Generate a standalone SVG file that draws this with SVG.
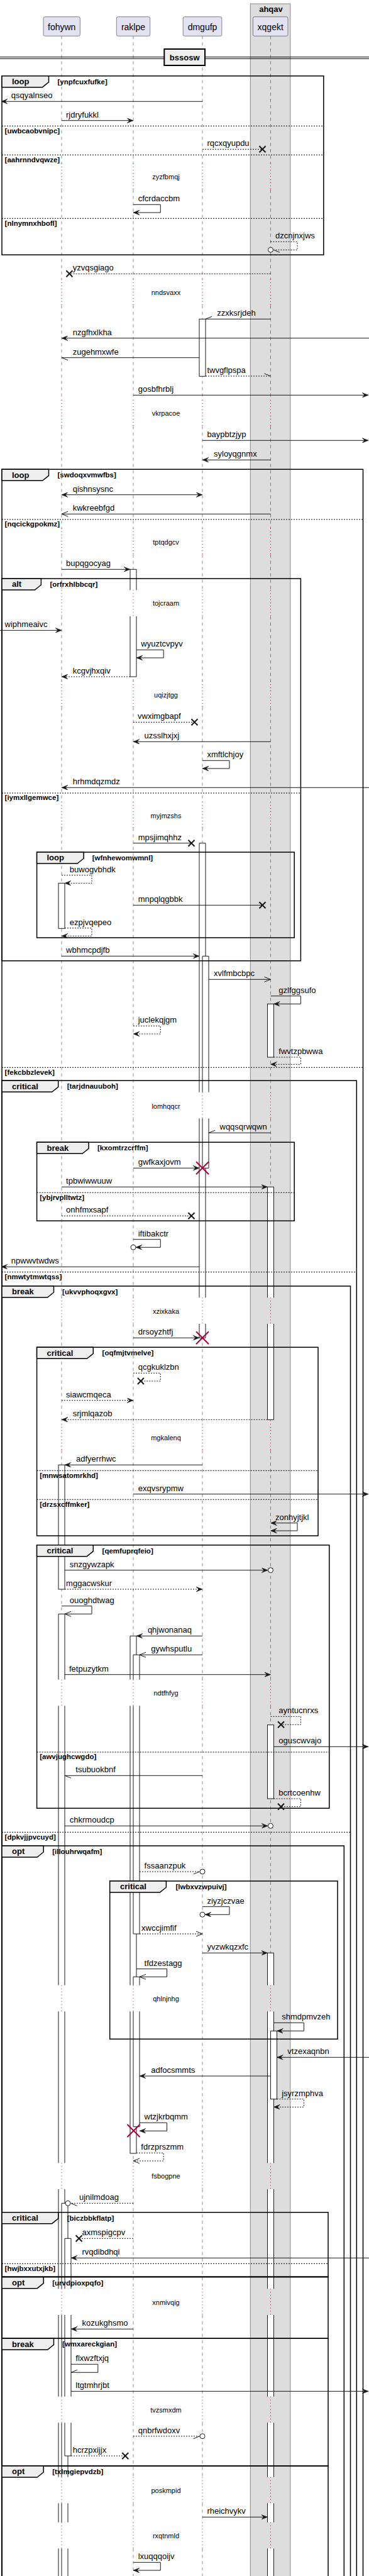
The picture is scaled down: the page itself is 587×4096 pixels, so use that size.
<svg xmlns="http://www.w3.org/2000/svg" width="587" height="4096" viewBox="0 0 587 4096">
<style>
.t{font-family:"Liberation Sans",Arial,sans-serif;font-size:13px;fill:#000}
.g{font-family:"Liberation Sans",Arial,sans-serif;font-size:11.5px;font-weight:bold;fill:#000}
.h{font-family:"Liberation Sans",Arial,sans-serif;font-size:13px;font-weight:bold;fill:#000}
.dt{font-family:"Liberation Sans",Arial,sans-serif;font-size:11px;fill:#000;text-anchor:middle}
.p{font-family:"Liberation Sans",Arial,sans-serif;font-size:14px;fill:#000;text-anchor:middle}
.pb{fill:#E2E2F0;stroke:#181818;stroke-width:0.5}
.ll{fill:none;stroke:#181818;stroke-width:0.5;stroke-dasharray:5,5}
.dl{fill:none;stroke:#A80036;stroke-width:1;stroke-dasharray:1,4}
.fr{fill:none;stroke:#000;stroke-width:1.5}
.tab{fill:#EEEEEE;stroke:#000;stroke-width:1.5}
.el{fill:none;stroke:#000;stroke-width:1;stroke-dasharray:2,2}
.m{fill:none;stroke:#181818;stroke-width:1}
.md{fill:none;stroke:#181818;stroke-width:1;stroke-dasharray:2,2}
.x{stroke:#181818;stroke-width:2;fill:none}
.rx{stroke:#A80036;stroke-width:2;fill:none}
.c{fill:#fff;stroke:#181818;stroke-width:1}
.ab{fill:#fff;stroke:#181818;stroke-width:1}
.aw{fill:#fff;stroke:none}
.as{fill:none;stroke:#181818;stroke-width:1}
</style>
<defs>
<marker id="af" viewBox="0 0 10 8" refX="10" refY="4" markerWidth="10" markerHeight="8" markerUnits="userSpaceOnUse" orient="auto-start-reverse"><path d="M0,0L10,4L0,8L4,4Z" fill="#181818" stroke="#181818" stroke-width="0.5" stroke-dasharray="none"/></marker>
<marker id="ao" viewBox="0 0 10 8" refX="10" refY="4" markerWidth="10" markerHeight="8" markerUnits="userSpaceOnUse" orient="auto" overflow="visible"><path d="M0,0L10,4L0,8" fill="none" stroke="#181818" stroke-width="1" stroke-dasharray="none"/></marker>
<path id="lld" d="M0,57.3V260M0,301.6V444M0,485.6V636M0,677.6V840M0,881.6V938.3M0,979.9V1083M0,1124.6V1275M0,1316.6V1736.7M0,1778.3V2063.3M0,2104.9V2264M0,2305.6V2670.7M0,2712.3V3156.7M0,3198.3V3439.3M0,3480.9V3639.3M0,3680.9V3810.7M0,3852.3V3938.7M0,3980.3V4010.7M0,4052.3V4096"/>
<path id="dld" d="M0,260V301.6M0,444V485.6M0,636V677.6M0,840V881.6M0,938.3V979.9M0,1083V1124.6M0,1275V1316.6M0,1736.7V1778.3M0,2063.3V2104.9M0,2264V2305.6M0,2670.7V2712.3M0,3156.7V3198.3M0,3439.3V3480.9M0,3639.3V3680.9M0,3810.7V3852.3M0,3938.7V3980.3M0,4010.7V4052.3"/>
<path id="xs" d="M-5,-5L5,5M-5,5L5,-5"/>
<path id="rxs" d="M-10,-10L10,10M-10,10L10,-10"/>
</defs>
<rect width="587" height="4096" fill="#fff"/>
<g id="box-ahqav">
<rect x="398.3" y="6" width="63.5" height="4100" fill="#DDDDDD" stroke="#888" stroke-width="1"/>
<text class="h" x="431" y="19" text-anchor="middle">ahqav</text>
</g>
<g id="lifelines">
<use href="#lld" x="98" class="ll"/><use href="#lld" x="212" class="ll"/><use href="#lld" x="322" class="ll"/><use href="#lld" x="430.5" class="ll"/>
<use href="#dld" x="98" class="dl"/><use href="#dld" x="212" class="dl"/><use href="#dld" x="322" class="dl"/><use href="#dld" x="430.5" class="dl"/>
</g>
<g id="p-fohywn"><rect class="pb" x="69" y="26.7" width="58.4" height="30.6" rx="2.5"/><text class="p" x="98.2" y="47.5">fohywn</text></g>
<g id="p-raklpe"><rect class="pb" x="185.3" y="26.7" width="53.4" height="30.6" rx="2.5"/><text class="p" x="212" y="47.5">raklpe</text></g>
<g id="p-dmgufp"><rect class="pb" x="291.2" y="26.7" width="61.7" height="30.6" rx="2.5"/><text class="p" x="322" y="47.5">dmgufp</text></g>
<g id="p-xqgekt"><rect class="pb" x="402.4" y="26.7" width="55.6" height="30.6" rx="2.5"/><text class="p" x="430.2" y="47.5">xqgekt</text></g>
<g id="divider-bssosw">
<path d="M0,90.7H587M0,93.3H587" stroke="#000" stroke-width="1" fill="none"/>
<rect x="261.3" y="78" width="64.7" height="26" fill="#EEEEEE" stroke="#000" stroke-width="2"/>
<text class="h" x="293.7" y="96" text-anchor="middle">bssosw</text>
</g>
<g id="delays">
<text class="dt" x="264" y="285">zyzfbmqj</text>
<text class="dt" x="264" y="469">nndsvaxx</text>
<text class="dt" x="264" y="661">vkrpacoe</text>
<text class="dt" x="264" y="865.5">tptqdgcv</text>
<text class="dt" x="264" y="963.3">tojcraam</text>
<text class="dt" x="264" y="1108.5">uqizjtgg</text>
<text class="dt" x="264" y="1300.5">myjmzshs</text>
<text class="dt" x="264" y="1762.5">lomhqqcr</text>
<text class="dt" x="264" y="2088.5">xzixkaka</text>
<text class="dt" x="264" y="2290">mgkalenq</text>
<text class="dt" x="264" y="2695.5">ndtfhfyg</text>
<text class="dt" x="264" y="3181.5">qhlnjnhg</text>
<text class="dt" x="264" y="3464">fsbogpne</text>
<text class="dt" x="264" y="3665">xnmivqig</text>
<text class="dt" x="264" y="3835.5">tvzsmxdm</text>
<text class="dt" x="264" y="3963.5">poskmpid</text>
<text class="dt" x="264" y="4035.5">rxqtnmld</text>
</g>
<g id="activations">
<rect class="ab" x="317" y="507.3" width="10" height="91"/>
<rect class="aw" x="207" y="905.3" width="10" height="33"/><path class="as" d="M207,938.3V905.3H217V938.3"/>
<rect class="aw" x="207" y="979.9" width="10" height="96.1"/><path class="as" d="M207,979.9V1076H217V979.9"/>
<rect class="ab" x="93" y="1404.3" width="10" height="72"/>
<rect class="aw" x="317" y="1340.7" width="10" height="396"/><path class="as" d="M317,1736.7V1340.7H327V1736.7"/>
<rect class="aw" x="317" y="1778.3" width="10" height="285"/><path class="as" d="M317,1778.3V2063.3M327,1778.3V2063.3"/>
<rect class="aw" x="317" y="2104.9" width="10" height="22.4"/><path class="as" d="M317,2104.9V2127.3H327V2104.9"/>
<rect class="aw" x="322" y="1520.3" width="10" height="216.4"/><path class="as" d="M322,1736.7V1520.3H332V1736.7"/>
<rect class="aw" x="322" y="1778.3" width="10" height="79"/><path class="as" d="M322,1778.3V1857.3H332V1778.3"/>
<rect class="ab" x="425.5" y="1596.3" width="10" height="84.7"/>
<rect class="aw" x="425.5" y="1887.3" width="10" height="176"/><path class="as" d="M425.5,2063.3V1887.3H435.5V2063.3"/>
<rect class="aw" x="425.5" y="2104.9" width="10" height="152.4"/><path class="as" d="M425.5,2104.9V2257.3H435.5V2104.9"/>
<rect class="ab" x="93" y="2329.3" width="10" height="197.7"/>
<rect class="aw" x="93" y="2566.3" width="10" height="104.4"/><path class="as" d="M93,2670.7V2566.3H103V2670.7"/>
<rect class="aw" x="93" y="2712.3" width="10" height="444.4"/><rect class="aw" x="93" y="3198.3" width="10" height="241"/><rect class="aw" x="93" y="3480.9" width="10" height="158.4"/><rect class="aw" x="93" y="3680.9" width="10" height="129.8"/><rect class="aw" x="93" y="3852.3" width="10" height="86.4"/><rect class="aw" x="93" y="3980.3" width="10" height="30.4"/><rect class="aw" x="93" y="4052.3" width="10" height="47.7"/>
<path class="as" d="M93,2712.3V3156.7M103,2712.3V3156.7M93,3198.3V3439.3M103,3198.3V3439.3M93,3480.9V3639.3M103,3480.9V3639.3M93,3680.9V3810.7M103,3680.9V3810.7M93,3852.3V3938.7M103,3852.3V3938.7M93,3980.3V4010.7M103,3980.3V4010.7M93,4052.3V4100M103,4052.3V4100"/>
<rect class="aw" x="207" y="2601.3" width="10" height="69.4"/><path class="as" d="M207,2670.7V2601.3H217V2670.7"/>
<rect class="aw" x="207" y="2712.3" width="10" height="444.4"/><path class="as" d="M207,2712.3V3156.7M217,2712.3V3156.7"/>
<rect class="aw" x="207" y="3198.3" width="10" height="225.7"/><path class="as" d="M207,3198.3V3424H217V3198.3"/>
<rect class="aw" x="212" y="2631.3" width="10" height="39.4"/><path class="as" d="M212,2670.7V2631.3H222V2670.7"/>
<rect class="aw" x="212" y="2712.3" width="10" height="362.7"/><path class="as" d="M212,2712.3V3075H222V2712.3"/>
<rect class="ab" x="425.5" y="2742.7" width="10" height="117.3"/>
<rect class="aw" x="425.5" y="3105.3" width="10" height="51.4"/><path class="as" d="M425.5,3156.7V3105.3H435.5V3156.7"/>
<rect class="aw" x="425.5" y="3198.3" width="10" height="241"/><rect class="aw" x="425.5" y="3480.9" width="10" height="158.4"/><rect class="aw" x="425.5" y="3680.9" width="10" height="129.8"/><rect class="aw" x="425.5" y="3852.3" width="10" height="86.4"/><rect class="aw" x="425.5" y="3980.3" width="10" height="30.4"/><rect class="aw" x="425.5" y="4052.3" width="10" height="47.7"/>
<path class="as" d="M425.5,3198.3V3439.3M435.5,3198.3V3439.3M425.5,3480.9V3639.3M435.5,3480.9V3639.3M425.5,3680.9V3810.7M435.5,3680.9V3810.7M425.5,3852.3V3938.7M435.5,3852.3V3938.7M425.5,3980.3V4010.7M435.5,3980.3V4010.7M425.5,4052.3V4100M435.5,4052.3V4100"/>
<rect class="aw" x="212" y="3143.3" width="10" height="13.4"/><path class="as" d="M212,3156.7V3143.3H222V3156.7"/>
<rect class="aw" x="212" y="3198.3" width="10" height="183.4"/><path class="as" d="M212,3198.3V3381.7H222V3198.3"/>
<rect class="ab" x="430.5" y="3229.3" width="10" height="108.4"/>
<rect class="aw" x="98" y="3503.3" width="10" height="136"/><path class="as" d="M98,3639.3V3503.3H108V3639.3"/>
<rect class="aw" x="98" y="3680.9" width="10" height="129.8"/><rect class="aw" x="98" y="3852.3" width="10" height="86.4"/><rect class="aw" x="98" y="3980.3" width="10" height="30.4"/><rect class="aw" x="98" y="4052.3" width="10" height="47.7"/>
<path class="as" d="M98,3680.9V3810.7M108,3680.9V3810.7M98,3852.3V3938.7M108,3852.3V3938.7M98,3980.3V4010.7M108,3980.3V4010.7M98,4052.3V4100M108,4052.3V4100"/>
<rect class="aw" x="103" y="3559.3" width="10" height="80"/><path class="as" d="M103,3639.3V3559.3H113V3639.3"/>
<rect class="aw" x="103" y="3680.9" width="10" height="129.8"/><path class="as" d="M103,3680.9V3810.7M113,3680.9V3810.7"/>
<rect class="aw" x="103" y="3852.3" width="10" height="52.7"/><path class="as" d="M103,3852.3V3905H113V3852.3"/>
</g>
<g id="frame-loop-ynpfcuxfufke">
<path class="fr" d="M3,120.7H514.8V405.3H3Z"/><path class="tab" d="M3,120.7H77.5V130.7L67.5,138.7H3Z"/>
<text class="h" x="19" y="134">loop</text><text class="g" x="91.5" y="133.5">[ynpfcuxfufke]</text>
<path class="el" d="M3,200.3H514.8M3,246.3H514.8M3,347.3H514.8"/>
<text class="g" x="7.6" y="211.7">[uwbcaobvnipc]</text><text class="g" x="7.6" y="257.7">[aahrnndvqwze]</text><text class="g" x="7.6" y="358.7">[nlnymnxhbofl]</text>
</g>
<g id="frame-loop-swdoqxvmwfbs">
<path class="fr" d="M3,4100V746.3H577.5V4100"/><path class="tab" d="M3,746.3H77.5V756.3L67.5,764.3H3Z"/>
<text class="h" x="19" y="759.6">loop</text><text class="g" x="91.5" y="759.1">[swdoqxvmwfbs]</text>
<path class="el" d="M3,826H577.5M3,1697.3H577.5"/>
<text class="g" x="7.6" y="837.4">[nqcickgpokmz]</text><text class="g" x="7.6" y="1708.7">[fekcbbzlevek]</text>
</g>
<g id="frame-alt-orfrxhlbbcqr">
<path class="fr" d="M3,920H478.4V1527.7H3Z"/><path class="tab" d="M3,920H65.4V930L55.4,938H3Z"/>
<text class="h" x="19" y="933.3">alt</text><text class="g" x="79.4" y="932.8">[orfrxhlbbcqr]</text>
<path class="el" d="M3,1261H478.4"/><text class="g" x="7.6" y="1272.4">[iymxllgemwce]</text>
</g>
<g id="frame-loop-wfnhewomwmnl">
<path class="fr" d="M58.6,1355H468.2V1491H58.6Z"/><path class="tab" d="M58.6,1355H133.1V1365L123.1,1373H58.6Z"/>
<text class="h" x="74.5" y="1368.3">loop</text><text class="g" x="146.7" y="1367.8">[wfnhewomwmnl]</text>
</g>
<g id="frame-critical-tarjdnauuboh">
<path class="fr" d="M3,4100V1718.3H567.3V4100"/><path class="tab" d="M3,1718.3H92.7V1728.3L82.7,1736.3H3Z"/>
<text class="h" x="19" y="1731.6">critical</text><text class="g" x="106.7" y="1731.1">[tarjdnauuboh]</text>
<path class="el" d="M3,2022.7H567.3"/><text class="g" x="7.6" y="2034.1">[nmwtytmwtqss]</text>
</g>
<g id="frame-break-kxomtrzcrffm">
<path class="fr" d="M58.6,1816.3H468.2V1941.3H58.6Z"/><path class="tab" d="M58.6,1816.3H141V1826.3L131,1834.3H58.6Z"/>
<text class="h" x="74.5" y="1829.6">break</text><text class="g" x="155" y="1829.1">[kxomtrzcrffm]</text>
<path class="el" d="M58.6,1896.3H468.2"/><text class="g" x="63.2" y="1907.7">[ybjrvplltwtz]</text>
</g>
<g id="frame-break-ukvvphoqxgvx">
<path class="fr" d="M3,4100V2045H557.5V4100"/><path class="tab" d="M3,2045H85.5V2055L75.5,2063H3Z"/>
<text class="h" x="19" y="2058.3">break</text><text class="g" x="99.1" y="2057.8">[ukvvphoqxgvx]</text>
<path class="el" d="M3,2913.3H557.5"/><text class="g" x="7.6" y="2924.7">[dpkvjjpvcuyd]</text>
</g>
<g id="frame-critical-oqfmjtvmelve">
<path class="fr" d="M58.6,2142.3H506V2442H58.6Z"/><path class="tab" d="M58.6,2142.3H148.3V2152.3L138.3,2160.3H58.6Z"/>
<text class="h" x="74.5" y="2155.6">critical</text><text class="g" x="162.6" y="2155.1">[oqfmjtvmelve]</text>
<path class="el" d="M58.6,2338.3H506M58.6,2384.3H506"/>
<text class="g" x="63.2" y="2349.7">[mnwsatomrkhd]</text><text class="g" x="63.2" y="2395.7">[drzsxcffmker]</text>
</g>
<g id="frame-critical-qemfuprqfeio">
<path class="fr" d="M58.6,2456.7H523.8V2875.3H58.6Z"/><path class="tab" d="M58.6,2456.7H148.3V2466.7L138.3,2474.7H58.6Z"/>
<text class="h" x="74.5" y="2470">critical</text><text class="g" x="162.6" y="2469.5">[qemfuprqfeio]</text>
<path class="el" d="M58.6,2786H523.8"/><text class="g" x="63.2" y="2797.4">[awvjughcwgdo]</text>
</g>
<g id="frame-opt-illouhrwqafm">
<path class="fr" d="M3,4100V2935H547.3V4100"/><path class="tab" d="M3,2935H69.2V2945L59.2,2953H3Z"/>
<text class="h" x="19" y="2948.3">opt</text><text class="g" x="83.2" y="2947.8">[illouhrwqafm]</text>
</g>
<g id="frame-critical-lwbxvzwpuivj">
<path class="fr" d="M174.7,2991H537V3242.3H174.7Z"/><path class="tab" d="M174.7,2991H264.4V3001L254.4,3009H174.7Z"/>
<text class="h" x="191" y="3004.3">critical</text><text class="g" x="279.5" y="3003.8">[lwbxvzwpuivj]</text>
</g>
<g id="frame-critical-biczbbkflatp">
<path class="fr" d="M3,3517.7H522V3620H3Z"/><path class="tab" d="M3,3517.7H92.7V3527.7L82.7,3535.7H3Z"/>
<text class="h" x="19" y="3531">critical</text><text class="g" x="106.7" y="3530.5">[biczbbkflatp]</text>
<path class="el" d="M3,3599.3H522"/><text class="g" x="7.6" y="3610.7">[hwjbxxutxjkb]</text>
</g>
<g id="frame-opt-urvdpioxpqfo">
<path class="fr" d="M3,3620.7H522V3718.3H3Z"/><path class="tab" d="M3,3620.7H69.2V3630.7L59.2,3638.7H3Z"/>
<text class="h" x="19" y="3634">opt</text><text class="g" x="83.2" y="3633.5">[urvdpioxpqfo]</text>
</g>
<g id="frame-break-wmxareckgian">
<path class="fr" d="M3,3718.3H522V3921H3Z"/><path class="tab" d="M3,3718.3H85.5V3728.3L75.5,3736.3H3Z"/>
<text class="h" x="19" y="3731.6">break</text><text class="g" x="99.1" y="3731.1">[wmxareckgian]</text>
</g>
<g id="frame-opt-txlmgiepvdzb">
<path class="fr" d="M3,4100V3921H522V4100"/><path class="tab" d="M3,3921H69.2V3931L59.2,3939H3Z"/>
<text class="h" x="19" y="3934.3">opt</text><text class="g" x="83.2" y="3933.8">[txlmgiepvdzb]</text>
</g>
<g id="connectors">
<path class="m" d="M322,161.3H2" marker-end="url(#af)"/><text class="t" x="17.8" y="156.3">qsqyalnseo</text>
<path class="m" d="M98,191.7H212" marker-end="url(#af)"/><text class="t" x="105" y="186.7">rjdryfukkl</text>
<path class="md" d="M322,237.3H417.5"/><use href="#xs" x="417.5" y="237.3" class="x"/><text class="t" x="329.4" y="232.3">rqcxqyupdu</text>
<path class="m" d="M212,325.3H255.3V338H212" marker-end="url(#af)"/><text class="t" x="219.7" y="320.3">cfcrdaccbm</text>
<path class="md" d="M430.5,384.3H473V397.3H434.5"/><circle class="c" cx="430.5" cy="397.3" r="4"/><path class="m" d="M435,397.3L445,401.3"/><text class="t" x="438" y="379.3">dzcnjnxjws</text>
<path class="md" d="M430.5,435.3H110.4"/><use href="#xs" x="110.4" y="435.3" class="x"/><text class="t" x="115.7" y="430.3">yzvqsgiago</text>
<path class="m" d="M430.5,507.3H327M327,507.3L337,503.3"/><text class="t" x="345.3" y="502.3">zzxksrjdeh</text>
<path class="m" d="M587,537.7H98" marker-end="url(#af)"/><text class="t" x="115.7" y="532.7">nzgfhxlkha</text>
<path class="m" d="M317,568.7H98M98,568.7L108,572.7"/><text class="t" x="115.7" y="563.7">zugehmxwfe</text>
<path class="md" d="M327,598H430.5"/><path class="m" d="M430.5,598L420.5,594"/><text class="t" x="329.4" y="593">twvgflpspa</text>
<path class="m" d="M212,628.3H586" marker-end="url(#af)"/><text class="t" x="219.7" y="623.3">gosbfhrblj</text>
<path class="m" d="M322,700.3H586" marker-end="url(#af)"/><text class="t" x="329.4" y="695.3">baypbtzjyp</text>
<path class="m" d="M430.5,731.3H322" marker-end="url(#af)"/><text class="t" x="340" y="726.3">syloyqgnmx</text>
<path class="m" d="M98,786.7H322" marker-start="url(#af)" marker-end="url(#af)"/><text class="t" x="115.7" y="781.7">qishnsysnc</text>
<path class="m" d="M430.5,817.3H98" marker-end="url(#ao)"/><text class="t" x="115.7" y="812.3">kwkreebfgd</text>
<path class="m" d="M98,905.3H207" marker-end="url(#af)"/><text class="t" x="105.1" y="900.3">bupqgocyag</text>
<path class="m" d="M0,1002.3H98" marker-end="url(#af)"/><text class="t" x="7.6" y="997.3">wiphmeaivc</text>
<path class="m" d="M217,1033.3H260.2V1046H217" marker-end="url(#af)"/><text class="t" x="224.3" y="1028.3">wyuztcvpyv</text>
<path class="md" d="M207,1076H98" marker-end="url(#af)"/><text class="t" x="115.7" y="1071">kcgvjhxqiv</text>
<path class="md" d="M212,1148.3H309.4"/><use href="#xs" x="309.4" y="1148.3" class="x"/><text class="t" x="219" y="1143.3">vwximgbapf</text>
<path class="m" d="M430.5,1179.3H212" marker-end="url(#af)"/><text class="t" x="229.6" y="1174.3">uzsslhxjxj</text>
<path class="m" d="M322,1209.3H365V1222H322" marker-end="url(#af)"/><text class="t" x="329.4" y="1204.3">xmftlchjoy</text>
<path class="m" d="M587,1252.3H98" marker-end="url(#af)"/><text class="t" x="115.7" y="1247.3">hrhmdqzmdz</text>
<path class="m" d="M212,1340.7H304.5"/><use href="#xs" x="304.5" y="1340.7" class="x"/><text class="t" x="219.7" y="1335.7">mpsjimqhhz</text>
<path class="md" d="M98,1391.7H146V1404.3H103" marker-end="url(#af)"/><text class="t" x="110.8" y="1386.7">buwogvbhdk</text>
<path class="m" d="M212,1439.3H417.5"/><use href="#xs" x="417.5" y="1439.3" class="x"/><text class="t" x="219.7" y="1434.3">mnpqlqgbbk</text>
<path class="md" d="M103,1475.7H146V1488.3H98" marker-end="url(#af)"/><text class="t" x="110.8" y="1470.7">ezpjvqepeo</text>
<path class="m" d="M98,1520.3H317" marker-end="url(#af)"/><text class="t" x="105.1" y="1515.3">wbhmcpdjfb</text>
<path class="m" d="M332,1557.3H430.5" marker-end="url(#ao)"/><text class="t" x="340" y="1552.3">xvlfmbcbpc</text>
<path class="m" d="M430.5,1583.7H478.4V1596.3H435.5" marker-end="url(#af)"/><text class="t" x="443.3" y="1578.7">gzlfggsufo</text>
<path class="md" d="M212,1631.3H255.3V1644H212" marker-end="url(#af)"/><text class="t" x="219.7" y="1626.3">juclekqjgm</text>
<path class="md" d="M435.5,1681H478.4V1692.3H430.5" marker-end="url(#af)"/><text class="t" x="443.3" y="1676">fwvtzpbwwa</text>
<path class="m" d="M430.5,1801.3H332M332,1801.3L342,1797.3"/><text class="t" x="349.5" y="1796.3">wqqsqrwqwn</text>
<path class="m" d="M212,1857.3H317" marker-end="url(#af)"/><use href="#rxs" x="322" y="1857.3" class="rx"/><text class="t" x="219.7" y="1852.3">gwfkaxjovm</text>
<path class="m" d="M98,1887.3H425.5" marker-end="url(#af)"/><text class="t" x="105.1" y="1882.3">tpbwiwwuuw</text>
<path class="md" d="M98,1933.3H304.5"/><use href="#xs" x="304.5" y="1933.3" class="x"/><text class="t" x="105.1" y="1928.3">onhfmxsapf</text>
<path class="m" d="M212,1970.7H255.3V1983.3H216" marker-end="url(#af)"/><circle class="c" cx="212" cy="1983.3" r="4"/><text class="t" x="219.7" y="1965.7">iftibakctr</text>
<path class="m" d="M317,2014.3H2" marker-end="url(#af)"/><text class="t" x="17.8" y="2009.3">npwwvtwdws</text>
<path class="m" d="M212,2127.3H317" marker-end="url(#af)"/><use href="#rxs" x="322" y="2127.3" class="rx"/><text class="t" x="219.7" y="2122.3">drsoyzhtfj</text>
<path class="md" d="M212,2183.3H255.3V2196H223.9"/><use href="#xs" x="223.9" y="2196" class="x"/><text class="t" x="219.7" y="2178.3">qcgkuklzbn</text>
<path class="md" d="M98,2226.7H212" marker-end="url(#af)"/><text class="t" x="105.1" y="2221.7">siawcmqeca</text>
<path class="md" d="M425.5,2257.3H98" marker-end="url(#af)"/><text class="t" x="115.7" y="2252.3">srjmlqazob</text>
<path class="m" d="M322,2329.3H103" marker-end="url(#af)"/><text class="t" x="121" y="2324.3">adfyerrhwc</text>
<path class="m" d="M212,2375.7H586" marker-end="url(#af)"/><text class="t" x="219.7" y="2370.7">exqvsrypmw</text>
<path class="m" d="M430.5,2421.7H473V2434H430.5" marker-start="url(#af)" marker-end="url(#af)"/><text class="t" x="438" y="2416.7">zonhyjtjkl</text>
<path class="m" d="M103,2496.7H426" marker-end="url(#af)"/><circle class="c" cx="430.5" cy="2496.7" r="4"/><text class="t" x="110.8" y="2491.7">snzgywzapk</text>
<path class="md" d="M103,2527H322" marker-end="url(#af)"/><text class="t" x="105.1" y="2522">mggacwskur</text>
<path class="m" d="M98,2553.7H146V2566.3H103" marker-end="url(#ao)"/><text class="t" x="110.8" y="2548.7">ouoghdtwag</text>
<path class="m" d="M322,2601.3H217" marker-end="url(#af)"/><text class="t" x="234.9" y="2596.3">qhjwonanaq</text>
<path class="m" d="M322,2631.3H222" marker-end="url(#ao)"/><text class="t" x="240.2" y="2626.3">gywhsputlu</text>
<path class="m" d="M103,2662.7H430.5" marker-end="url(#af)"/><text class="t" x="110" y="2657.7">fetpuzytkm</text>
<path class="md" d="M430.5,2729.3H478.4V2742.3H447"/><use href="#xs" x="447" y="2742.3" class="x"/><text class="t" x="443.3" y="2724.3">ayntucnrxs</text>
<path class="m" d="M435.5,2777.3H586" marker-end="url(#af)"/><text class="t" x="443.3" y="2772.3">oguscwvajo</text>
<path class="m" d="M322,2823.3H103M103,2823.3L113,2827.3"/><text class="t" x="120.3" y="2818.3">tsubuokbnf</text>
<path class="md" d="M435.5,2860H478.4V2872.7H447"/><use href="#xs" x="447" y="2872.7" class="x"/><text class="t" x="443.3" y="2855">bcrtcoenhw</text>
<path class="m" d="M103,2903.3H426" marker-end="url(#af)"/><circle class="c" cx="430.5" cy="2903.3" r="4"/><text class="t" x="110.8" y="2898.3">chkrmoudcp</text>
<path class="md" d="M222,2976H317.5"/><circle class="c" cx="322" cy="2976" r="4"/><path class="m" d="M317.5,2976L307.5,2980"/><text class="t" x="229.6" y="2971">fssaanzpuk</text>
<path class="m" d="M322,3031.7H365V3044.3H326" marker-end="url(#af)"/><circle class="c" cx="322" cy="3044.3" r="4"/><text class="t" x="329.4" y="3026.7">ziyzjczvae</text>
<path class="md" d="M222,3075H322" marker-end="url(#ao)"/><text class="t" x="225" y="3069.5">xwccjimfif</text>
<path class="m" d="M322,3105.3H425.5" marker-end="url(#af)"/><text class="t" x="329.4" y="3100.3">yvzwkqzxfc</text>
<path class="m" d="M217,3130.7H265.5V3143.3H222" marker-end="url(#ao)"/><text class="t" x="229.6" y="3125.7">tfdzestagg</text>
<path class="m" d="M435.5,3216.3H483.4V3229.3H440.5" marker-end="url(#af)"/><text class="t" x="448.2" y="3211.3">shmdpmvzeh</text>
<path class="m" d="M587,3271.3H440.5" marker-end="url(#af)"/><text class="t" x="457.3" y="3266.3">vtzexaqnbn</text>
<path class="m" d="M430.5,3301H222" marker-end="url(#af)"/><text class="t" x="240.2" y="3296">adfocsmmts</text>
<path class="md" d="M440.5,3337.7H483.4V3350.3H435.5" marker-end="url(#af)"/><text class="t" x="448.2" y="3332.7">jsyrzmphva</text>
<path class="m" d="M222,3375.3H265.5V3388.3H222" marker-end="url(#af)"/><use href="#rxs" x="212.5" y="3388" class="rx"/><text class="t" x="229.6" y="3370.3">wtzjkrbqmm</text>
<path class="md" d="M217,3423.3H260.2V3436H212" marker-end="url(#ao)"/><text class="t" x="224.3" y="3418.3">fdrzprszmm</text>
<path class="md" d="M212,3503.3H112.5"/><circle class="c" cx="108" cy="3503.3" r="4"/><path class="m" d="M112.5,3503.3L122.5,3507.3"/><text class="t" x="126" y="3498.3">ujnilmdoag</text>
<path class="md" d="M212,3559.3H125.6"/><use href="#xs" x="125.6" y="3559.3" class="x"/><text class="t" x="130.5" y="3554.3">axmspigcpv</text>
<path class="m" d="M587,3590.3H113" marker-end="url(#af)"/><text class="t" x="130.5" y="3585.3">rvqdibdhqi</text>
<path class="m" d="M212,3703.3H113" marker-end="url(#af)"/><text class="t" x="130.5" y="3698.3">kozukghsmo</text>
<path class="m" d="M113,3759.3H155.8V3772.3H113M113,3772.3L123,3768.3"/><text class="t" x="120.3" y="3754.3">flxwzftxjq</text>
<path class="m" d="M113,3802.3H586" marker-end="url(#af)"/><text class="t" x="120.3" y="3797.3">ltgtmhrjbt</text>
<path class="md" d="M212,3873.7H317.5"/><circle class="c" cx="322" cy="3873.7" r="4"/><path class="m" d="M317.5,3873.7L307.5,3877.7"/><text class="t" x="219.7" y="3868.7">qnbrfwdoxv</text>
<path class="md" d="M113,3905H199.3"/><use href="#xs" x="199.3" y="3905" class="x"/><text class="t" x="115.7" y="3900">hcrzpxijjx</text>
<path class="m" d="M322,4002.3H425.5" marker-end="url(#af)"/><text class="t" x="329.4" y="3997.3">rheichvykv</text>
<path class="m" d="M212,4074.3H255.3V4087H212" marker-end="url(#af)"/><text class="t" x="219.7" y="4069.3">lxuqqqoijv</text>
</g>
</svg>
